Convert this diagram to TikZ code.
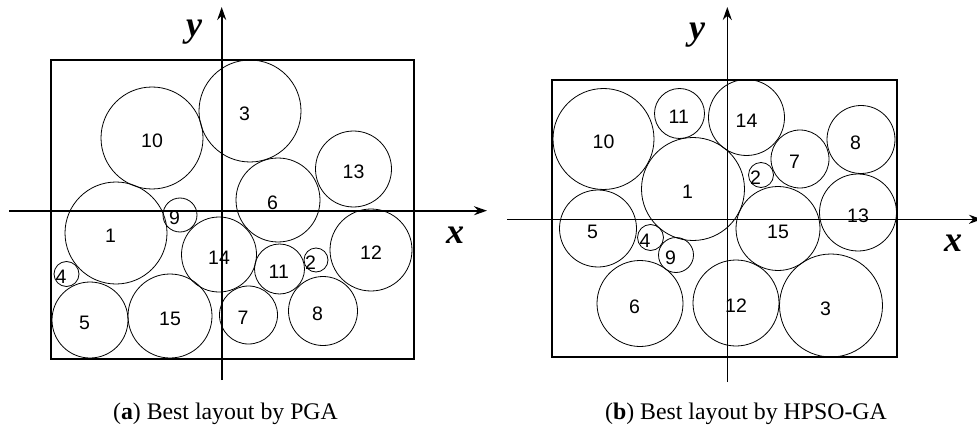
\documentclass[tikz,border=0pt]{standalone}
\usepackage{fontspec}
\setmainfont{Liberation Serif}
\newfontfamily\numfont{Liberation Sans}
\usetikzlibrary{arrows.meta}

\begin{document}
\begin{tikzpicture}[x=1pt,y=-1pt,
  disc/.style={circle,draw,line width=0.8pt,inner sep=0pt},
  num/.style={font=\numfont\fontsize{19.5}{19.5}\selectfont,inner sep=0pt,anchor=west},
  axis/.style={line width=1.6pt,-{Stealth[length=13pt,width=9pt]}},
  axlabel/.style={font=\fontsize{36}{36}\selectfont\bfseries\itshape,inner sep=0pt},
  frame/.style={line width=1.3pt},
  capt/.style={font=\fontsize{23.8}{24}\selectfont,anchor=base,inner sep=0pt}]
  \useasboundingbox (0,0) rectangle (977,425);
  % (a) rozlozeni PGA
  \draw[frame] (51,60) rectangle (414,359);
  \foreach \n/\x/\y/\r in {1/116/233/51,2/316/260/12,3/250/111/51,4/66.5/274/12.5,
      5/90/320/38,6/278/200/42,7/248.5/315/29,8/323/311/34.5,9/180/215/17,
      10/152/138/51,11/279.5/269/25,12/371/250/41,13/353.5/169/38,
      14/219/254.5/37.5,15/170/316/42}
    {\node[disc,minimum size=2*\r*1pt] (a\n) at (\x,\y) {};
     \node[num] (na\n) at ([xshift=-11pt,yshift=-3pt]a\n.center) {\n};}
  % osy (a)
  \coordinate (ax0) at (9,210.7); \coordinate (ax1) at (487,210.7);
  \coordinate (ay0) at (221.7,380); \coordinate (ay1) at (221.7,7);
  \draw[axis] (ax0) -- (ax1); \draw[axis] (ay0) -- (ay1);
  \node[axlabel] (axa) at (455,235) {x};
  \node[axlabel] (aya) at (194,32) {y};
  \node[capt] (capa) at (225.5,419) {(\textbf{a}) Best layout by PGA};
  % (b) rozlozeni HPSO-GA
  \draw[frame] (552,80) rectangle (897,357);
  \foreach \n/\x/\y/\r in {1/693/189/51.5,2/761/175/12.5,3/831/305.5/51.5,
      4/650.5/237.5/13,5/598/228.5/38.5,6/640/303.5/43,7/800/159/29,
      8/861/139.5/34,9/676/255/17.5,10/603.5/139/50.5,11/679.5/113.5/25,
      12/736/303/43,13/858/212.5/38.5,14/746.5/117.5/38,15/778/228.5/42}
    {\node[disc,minimum size=2*\r*1pt] (b\n) at (\x,\y) {};
     \node[num] (nb\n) at ([xshift=-11pt,yshift=-3pt]b\n.center) {\n};}
  % osy (b)
  \coordinate (bx0) at (507,219.3); \coordinate (bx1) at (982,219.3);
  \coordinate (by0) at (727.3,382); \coordinate (by1) at (727.3,7);
  \draw[axis] (bx0) -- (bx1); \draw[axis] (by0) -- (by1);
  \node[axlabel] (axb) at (953,243) {x};
  \node[axlabel] (ayb) at (697,35) {y};
  \node[capt] (capb) at (746,419) {(\textbf{b}) Best layout by HPSO-GA};
\end{tikzpicture}
\end{document}
